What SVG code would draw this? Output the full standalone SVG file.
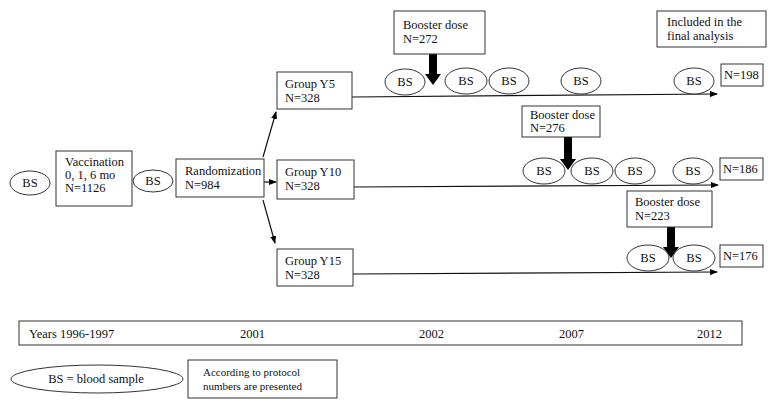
<svg xmlns="http://www.w3.org/2000/svg" width="777" height="409" viewBox="0 0 777 409">
<style>
text{font-family:"Liberation Serif","Times New Roman",serif;font-size:12.5px;fill:#111}
.box{fill:#fff;stroke:#333;stroke-width:1}
.bs{fill:#fff;stroke:#333;stroke-width:1}
.ln{fill:none;stroke:#111;stroke-width:1.2}
.c{text-anchor:middle}
.sm{font-size:11px}
.thick{fill:#000}
</style>
<defs>
<marker id="ah" markerWidth="8" markerHeight="6" refX="7" refY="3" orient="auto" markerUnits="userSpaceOnUse">
<path d="M0,0 L8,3 L0,6 Z" fill="#000"/>
</marker>
</defs>
<rect width="777" height="409" fill="#fff"/>

<g id="connectors">
<line class="ln" x1="264" y1="182" x2="276" y2="182" marker-end="url(#ah)"/>
<line class="ln" x1="263" y1="157" x2="276" y2="112" marker-end="url(#ah)"/>
<line class="ln" x1="263" y1="200" x2="275" y2="243" marker-end="url(#ah)"/>
<line class="ln" x1="352" y1="97" x2="717" y2="94" marker-end="url(#ah)"/>
<line class="ln" x1="354" y1="187" x2="718" y2="185" marker-end="url(#ah)"/>
<line class="ln" x1="353" y1="274" x2="717" y2="272" marker-end="url(#ah)"/>
<path class="thick" d="M429,54 H437 V74 H441 L433,85 L425,74 H429 Z"/>
<path class="thick" d="M564,137 H572 V159 H576 L568,170 L560,159 H564 Z"/>
<path class="thick" d="M667,227 H675 V247 H679 L671,258 L663,247 H667 Z"/>
</g>

<g id="bs-start"><ellipse class="bs" cx="30" cy="183" rx="20" ry="12"/><text class="c" x="30" y="187">BS</text></g>
<g id="vaccination"><rect class="box" x="56" y="151" width="76" height="55"/><text x="65" y="166">Vaccination</text><text x="65" y="179">0, 1, 6 mo</text><text x="65" y="192">N=1126</text></g>
<g id="bs-pre"><ellipse class="bs" cx="153" cy="181" rx="20" ry="11"/><text class="c" x="153" y="185">BS</text></g>
<g id="randomization"><rect class="box" x="176" y="159" width="88" height="38"/><text x="185" y="175">Randomization</text><text x="185" y="189">N=984</text></g>

<g id="group-y5"><rect class="box" x="277" y="72" width="75" height="37"/><text x="285" y="88">Group Y5</text><text x="285" y="102">N=328</text></g>
<g id="group-y10"><rect class="box" x="277" y="160" width="77" height="39"/><text x="285" y="176">Group Y10</text><text x="285" y="190">N=328</text></g>
<g id="group-y15"><rect class="box" x="277" y="249" width="76" height="37"/><text x="285" y="265">Group Y15</text><text x="285" y="279">N=328</text></g>

<g id="booster-272"><rect class="box" x="394" y="11" width="91" height="43"/><text x="403" y="29">Booster dose</text><text x="403" y="43">N=272</text></g>
<g id="booster-276"><rect class="box" x="522" y="106" width="78" height="31"/><text x="530" y="119">Booster dose</text><text x="530" y="132">N=276</text></g>
<g id="booster-223"><rect class="box" x="627" y="191" width="85" height="36"/><text x="635" y="206">Booster dose</text><text x="635" y="220">N=223</text></g>
<g id="included"><rect class="box" x="657" y="11" width="109" height="36"/><text x="667" y="26">Included in the</text><text x="667" y="40">final analysis</text></g>

<g id="y5-bs">
<ellipse class="bs" cx="405" cy="82" rx="20" ry="13"/><text class="c" x="405" y="86">BS</text>
<ellipse class="bs" cx="466" cy="81" rx="21" ry="13"/><text class="c" x="466" y="85">BS</text>
<ellipse class="bs" cx="509" cy="81" rx="20" ry="13"/><text class="c" x="509" y="85">BS</text>
<ellipse class="bs" cx="581" cy="81" rx="20" ry="13"/><text class="c" x="581" y="85">BS</text>
<ellipse class="bs" cx="694" cy="81" rx="20" ry="13"/><text class="c" x="694" y="85">BS</text>
</g>
<g id="y10-bs">
<ellipse class="bs" cx="544" cy="171" rx="21" ry="13"/><text class="c" x="544" y="175">BS</text>
<ellipse class="bs" cx="592" cy="171" rx="21" ry="13"/><text class="c" x="592" y="175">BS</text>
<ellipse class="bs" cx="635" cy="171" rx="20" ry="13"/><text class="c" x="635" y="175">BS</text>
<ellipse class="bs" cx="693" cy="171" rx="20" ry="13"/><text class="c" x="693" y="175">BS</text>
</g>
<g id="y15-bs">
<ellipse class="bs" cx="648" cy="258" rx="21" ry="13"/><text class="c" x="648" y="262">BS</text>
<ellipse class="bs" cx="694" cy="258" rx="21" ry="13"/><text class="c" x="694" y="262">BS</text>
</g>

<g id="n198"><rect class="box" x="721" y="64" width="42" height="22"/><text x="724" y="79">N=198</text></g>
<g id="n186"><rect class="box" x="720" y="158" width="43" height="22"/><text x="723" y="173">N=186</text></g>
<g id="n176"><rect class="box" x="720" y="245" width="43" height="22"/><text x="723" y="260">N=176</text></g>

<g id="timeline"><rect class="box" x="19" y="321" width="723" height="24"/>
<text x="29" y="338">Years 1996-1997</text>
<text x="240" y="338">2001</text>
<text x="419" y="338">2002</text>
<text x="559" y="338">2007</text>
<text x="697" y="338">2012</text>
</g>
<g id="legend-bs"><ellipse class="bs" cx="97" cy="379" rx="86" ry="14"/><text class="c" x="96" y="383">BS = blood sample</text></g>
<g id="legend-protocol"><rect class="box" x="188" y="360" width="149" height="38"/><text class="sm" x="203" y="376">According to protocol</text><text class="sm" x="203" y="390">numbers are presented</text></g>
</svg>
